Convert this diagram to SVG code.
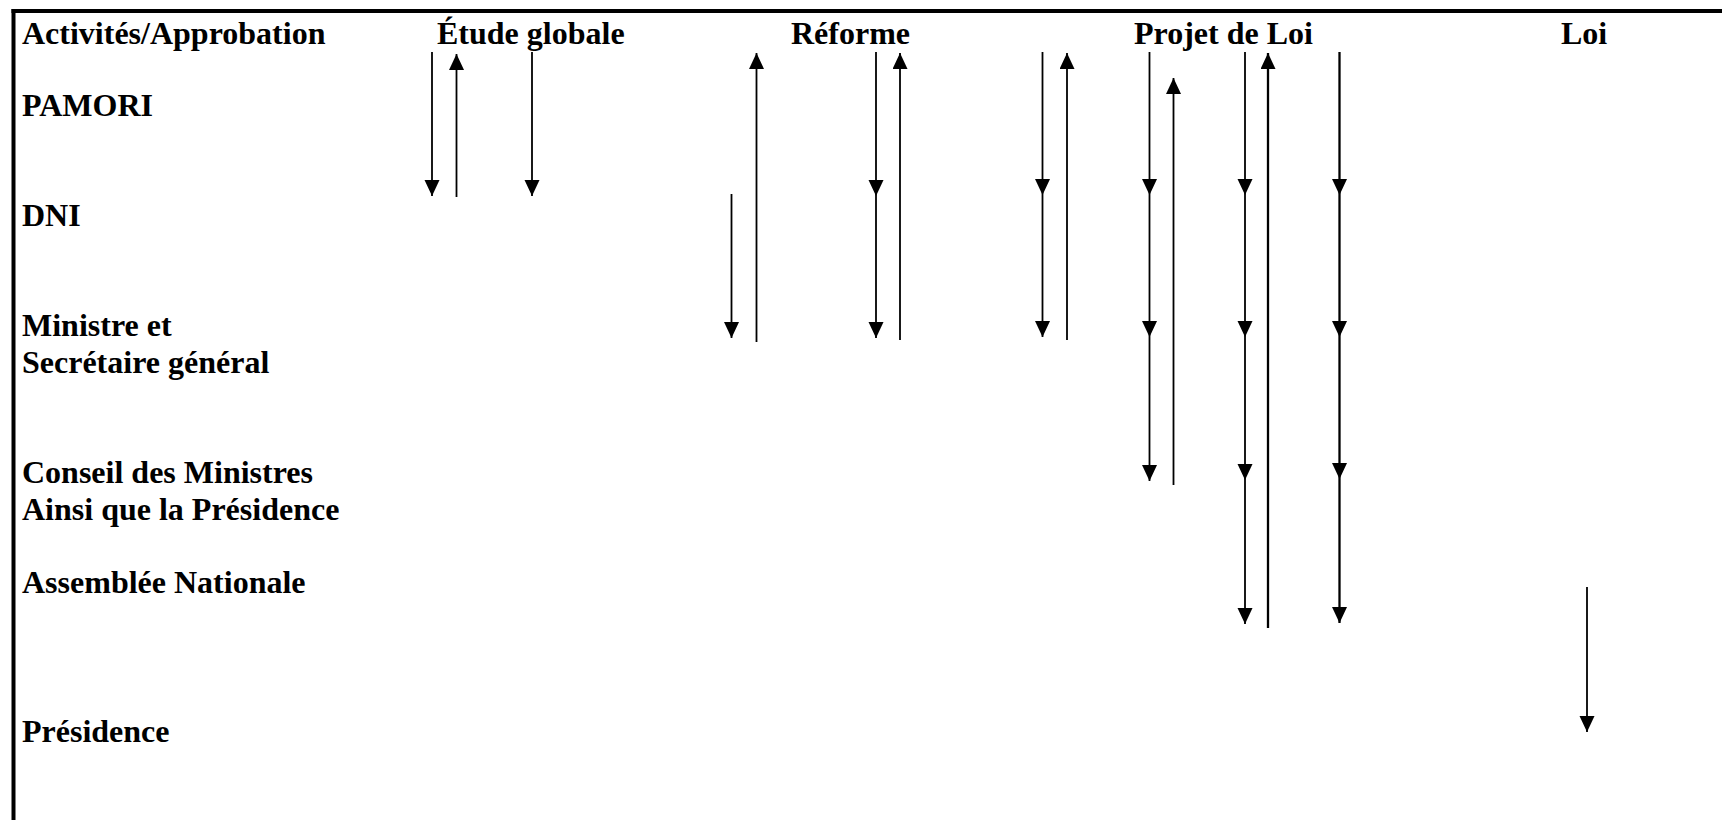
<svg xmlns="http://www.w3.org/2000/svg" width="1722" height="820" viewBox="0 0 1722 820">
<style>
text{font-family:"Liberation Serif","Times New Roman",serif;font-weight:bold;font-size:32px;fill:#000}
.c{fill:none;stroke:#000;stroke-width:1.8}
.t{stroke-width:2.3}
.b{stroke:#000;stroke-width:4;fill:none}
</style>
<defs>
<marker id="ah" markerUnits="userSpaceOnUse" markerWidth="17" markerHeight="16" refX="16" refY="7.5" orient="auto">
<path d="M0,0 L16,7.5 L0,15 z" fill="#000"/>
</marker>
</defs>
<rect width="1722" height="820" fill="#fff"/>
<g id="frame">
<line class="b" x1="11.5" y1="11" x2="1722" y2="11"/>
<line class="b" x1="13.5" y1="9" x2="13.5" y2="820"/>
</g>
<g id="headers">
<text x="22" y="44">Activités/Approbation</text>
<text x="437" y="44">Étude globale</text>
<text x="791" y="44">Réforme</text>
<text x="1134" y="44">Projet de Loi</text>
<text x="1561" y="44">Loi</text>
</g>
<g id="n-pamori"><text x="22" y="116">PAMORI</text></g>
<g id="n-dni"><text x="22" y="226">DNI</text></g>
<g id="n-ministre"><text x="22" y="336">Ministre et</text><text x="22" y="373">Secrétaire général</text></g>
<g id="n-conseil"><text x="22" y="483">Conseil des Ministres</text><text x="22" y="520">Ainsi que la Présidence</text></g>
<g id="n-assemblee"><text x="22" y="593">Assemblée Nationale</text></g>
<g id="n-presidence"><text x="22" y="742">Présidence</text></g>
<g id="connectors" marker-mid="url(#ah)" marker-end="url(#ah)">
<polyline class="c" points="432,52 432,196"/>
<polyline class="c" points="456.5,197 456.5,54"/>
<polyline class="c" points="532,52 532,196"/>
<polyline class="c" points="731.5,194 731.5,338"/>
<polyline class="c" points="756.5,342 756.5,53"/>
<polyline class="c" points="876,52 876,196 876,338"/>
<polyline class="c" points="900,340 900,53"/>
<polyline class="c" points="1042.5,52 1042.5,195 1042.5,337"/>
<polyline class="c" points="1067,340 1067,53"/>
<polyline class="c" points="1149.5,52 1149.5,195 1149.5,337 1149.5,481"/>
<polyline class="c" points="1173.5,485 1173.5,78"/>
<polyline class="c" points="1245,52 1245,195 1245,337 1245,480 1245,624"/>
<polyline class="c t" points="1268,628 1268,53"/>
<polyline class="c t" points="1339.5,52 1339.5,195 1339.5,337 1339.5,479 1339.5,623"/>
<polyline class="c" points="1587,587 1587,732"/>
</g>
</svg>
